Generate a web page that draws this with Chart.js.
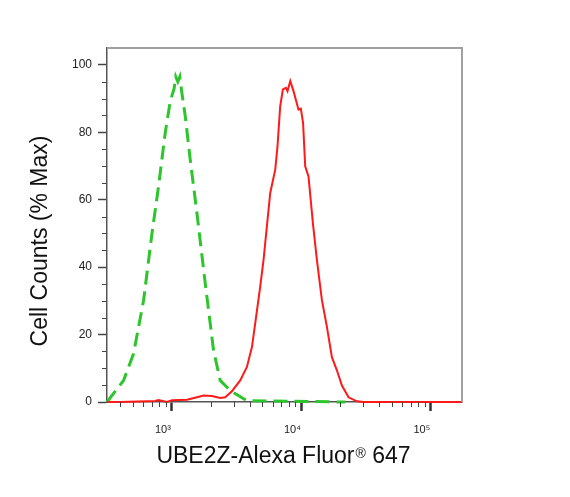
<!DOCTYPE html>
<html lang="en">
<head>
    <meta charset="UTF-8">
    <title>UBE2Z flow histogram</title>
    <script src="https://cdn.jsdelivr.net/npm/chart.js"></script>
    <style>
        body {
            margin: 0;
            padding: 0;
            background: #fff;
        }
    </style>
</head>
<body>
    <canvas id="histChart" width="570" height="497"></canvas>
    <script>
        // isotype control (green dashed)
        var isoX = [315, 423, 505, 604, 701, 788, 887, 970, 1040, 1070, 1110, 1150, 1190, 1267, 1384, 1560, 1808, 2096, 2360, 2820, 3794, 21800];
        var isoY = [0, 6.4, 14.3, 30.2, 50, 64, 79.8, 89.2, 93, 96.5, 95, 96.5, 92, 84.8, 71.9, 56, 35.2, 15.3, 6.4, 3.4, 0.4, 0];

        // UBE2Z stained sample (red)
        var ubeX = [315, 399, 743, 789, 915, 1000, 1306, 1560, 1754, 2036, 2360, 2580, 2906, 3368, 3794, 4148, 4397, 4806, 5097, 5474, 5743, 6278, 6537, 6856, 7194, 7586, 7810, 8200, 8692, 9200, 9500, 9900, 10300, 10700, 11350, 12270, 13180, 14400, 15740, 17200, 18800, 20560, 23120, 26850, 30200, 174000];
        var ubeY = [0, 0, 0.3, 0.6, 0, 0.5, 0.7, 1.4, 1.9, 1.8, 1.2, 1.4, 3.2, 6.4, 10.4, 16.3, 23.3, 34.2, 42.1, 54, 62, 68.9, 75.8, 87.7, 92.7, 93.2, 92.2, 95.2, 92.2, 88.7, 86.7, 87, 82.8, 69.9, 66.9, 53, 42.1, 30.2, 22.3, 13.3, 9.4, 4.9, 1.4, 0.2, 0, 0];

        var xMajor = [1000, 10000, 100000];
        var xTickLabels = ['10\u00b3', '10\u2074', '10\u2075'];
        var xMinor = [400, 500, 600, 700, 800, 900, 2000, 3000, 4000, 5000, 6000, 7000, 8000, 9000,
                      20000, 30000, 40000, 50000, 60000, 70000, 80000, 90000];
        var yMajor = [0, 20, 40, 60, 80, 100];
        var yMinor = [5, 10, 15, 25, 30, 35, 45, 50, 55, 65, 70, 75, 85, 90, 95];

        var FONT = 'Liberation Sans, Arial, sans-serif';

        function toPoints(xs, ys) {
            return xs.map(function (x, i) { return { x: x, y: ys[i] }; });
        }

        // minor ticks, top/right frame and the x title (with small superscript ®)
        var extras = {
            id: 'extras',
            afterDraw: function (chart) {
                var ctx = chart.ctx, a = chart.chartArea;
                var x = chart.scales.x, y = chart.scales.y;
                ctx.save();
                ctx.strokeStyle = '#444';
                ctx.lineWidth = 1;
                ctx.beginPath();
                xMinor.forEach(function (v) {
                    var px = Math.round(x.getPixelForValue(v)) + 0.5;
                    ctx.moveTo(px, a.bottom);
                    ctx.lineTo(px, a.bottom + 5);
                });
                yMinor.forEach(function (v) {
                    var py = Math.round(y.getPixelForValue(v)) + 0.5;
                    ctx.moveTo(a.left, py);
                    ctx.lineTo(a.left - 5, py);
                });
                ctx.stroke();

                ctx.strokeStyle = '#a0a0a0';
                ctx.lineWidth = 2;
                ctx.beginPath();
                ctx.moveTo(a.left, a.top);
                ctx.lineTo(a.right, a.top);
                ctx.lineTo(a.right, a.bottom);
                ctx.stroke();

                var big = '23px ' + FONT, small = '14px ' + FONT;
                var p1 = 'UBE2Z-Alexa Fluor', p2 = '\u00ae', p3 = ' 647';
                ctx.fillStyle = '#111';
                ctx.textBaseline = 'alphabetic';
                ctx.textAlign = 'left';
                ctx.font = big;
                var w1 = ctx.measureText(p1).width, w3 = ctx.measureText(p3).width;
                ctx.font = small;
                var w2 = ctx.measureText(p2).width;
                var sx = 283 - (w1 + w2 + w3) / 2, base = 463;
                ctx.font = big;
                ctx.fillText(p1, sx, base);
                ctx.font = small;
                ctx.fillText(p2, sx + w1 + 1, base - 5);
                ctx.font = big;
                ctx.fillText(p3, sx + w1 + w2 + 1, base);
                ctx.restore();
            }
        };

        var ctx = document.getElementById('histChart').getContext('2d');
        new Chart(ctx, {
            type: 'line',
            data: {
                datasets: [{
                    label: 'UBE2Z',
                    data: toPoints(ubeX, ubeY),
                    borderColor: '#ff1a1a',
                    borderWidth: 2,
                    pointRadius: 0,
                    tension: 0,
                    clip: false
                }, {
                    label: 'Isotype',
                    data: toPoints(isoX, isoY),
                    borderColor: '#2cc62c',
                    borderWidth: 3,
                    borderDash: [14, 7],
                    pointRadius: 0,
                    tension: 0,
                    clip: false
                }]
            },
            options: {
                responsive: false,
                animation: false,
                events: [],
                layout: { padding: { top: 48, right: 108, left: 0, bottom: 0 } },
                plugins: {
                    legend: { display: false },
                    tooltip: { enabled: false }
                },
                scales: {
                    x: {
                        type: 'logarithmic',
                        min: 315,
                        max: 174000,
                        afterFit: function (s) { s.height = 95; },
                        afterBuildTicks: function (s) {
                            s.ticks = xMajor.map(function (v) { return { value: v }; });
                        },
                        ticks: {
                            autoSkip: false,
                            maxRotation: 0,
                            labelOffset: -9,
                            padding: 12,
                            color: '#222',
                            font: { family: FONT, size: 11 },
                            callback: function (v, i) { return xTickLabels[i]; }
                        },
                        grid: { drawOnChartArea: false, tickLength: 9, tickWidth: 2.5, tickColor: '#333' },
                        border: { color: '#555', width: 1.5 }
                    },
                    y: {
                        min: 0,
                        max: 105,
                        afterFit: function (s) { s.width = 107; },
                        afterBuildTicks: function (s) {
                            s.ticks = yMajor.map(function (v) { return { value: v }; });
                        },
                        ticks: {
                            padding: 6,
                            color: '#222',
                            font: { family: FONT, size: 12 }
                        },
                        grid: { drawOnChartArea: false, tickLength: 9, tickWidth: 1.5, tickColor: '#444' },
                        border: { color: '#555', width: 1.5 },
                        title: {
                            display: true,
                            text: 'Cell Counts (% Max)\u00a0\u00a0\u00a0\u00a0\u00a0',
                            color: '#111',
                            font: { family: FONT, size: 23 },
                            padding: { top: 27, bottom: 0 }
                        }
                    }
                }
            },
            plugins: [extras]
        });
    </script>
</body>
</html>
